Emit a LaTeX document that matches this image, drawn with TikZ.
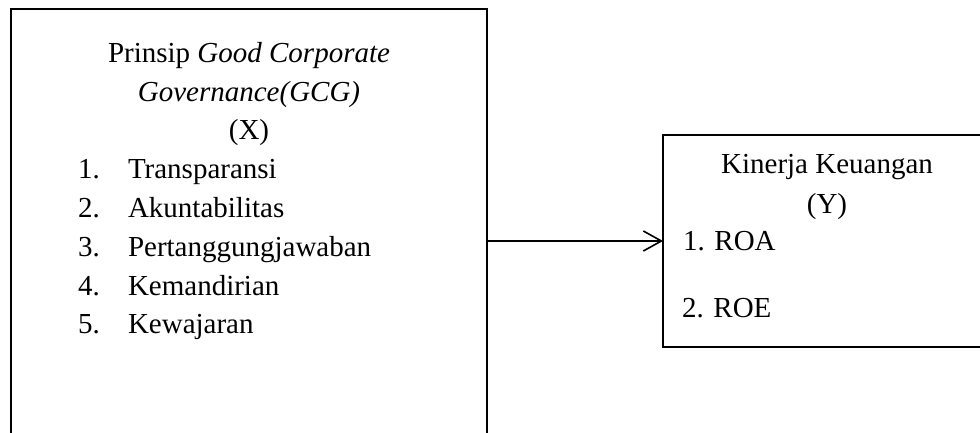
\documentclass[tikz,border=0pt]{standalone}
\usepackage{fontspec}
\setmainfont{Liberation Serif}
\usetikzlibrary{arrows.meta}
\tikzset{
  framebox/.style={draw, line width=1.3pt, rectangle, inner sep=0pt, outer sep=0pt},
  label text/.style={inner sep=0pt, outer sep=0pt, font=\fontsize{29}{38}\selectfont},
  flow/.style={line width=1.6pt, -{Straight Barb[length=18pt, width=20pt, line width=1.6pt]}}
}
\begin{document}
\begin{tikzpicture}[x=1pt, y=1pt]
  \useasboundingbox (0,0) rectangle (980,432);
  \clip (0,0) rectangle (980,432);
  % frames
  \node[framebox, minimum width=476pt, minimum height=441pt] (gcg) at (249,202.5) {};
  \node[framebox, minimum width=328pt, minimum height=212pt] (kin) at (827,191) {};
  % independent variable
  \node[label text, anchor=base] (t1) at (249,369) {Prinsip \textit{Good Corporate}};
  \node[label text, anchor=base] (t2) at (249,330) {\textit{Governance(GCG)}};
  \node[label text, anchor=base] (t3) at (249,292) {(X)};
  \node[label text, anchor=base west] (n1) at (78,254) {1.};
  \node[label text, anchor=base west] (i1) at (128,254) {Transparansi};
  \node[label text, anchor=base west] (n2) at (78,215) {2.};
  \node[label text, anchor=base west] (i2) at (128,215) {Akuntabilitas};
  \node[label text, anchor=base west] (n3) at (78,176) {3.};
  \node[label text, anchor=base west] (i3) at (128,176) {Pertanggungjawaban};
  \node[label text, anchor=base west] (n4) at (78,137) {4.};
  \node[label text, anchor=base west] (i4) at (128,137) {Kemandirian};
  \node[label text, anchor=base west] (n5) at (78,99) {5.};
  \node[label text, anchor=base west] (i5) at (128,99) {Kewajaran};
  % dependent variable
  \node[label text, anchor=base] (k1) at (827,259) {Kinerja Keuangan};
  \node[label text, anchor=base] (k2) at (827,219) {(Y)};
  \node[label text, anchor=base west] (r1) at (683,182) {1. ROA};
  \node[label text, anchor=base west] (r2) at (682,115) {2. ROE};
  % relation
  \draw[flow] (kin.west -| gcg.east) -- (kin.west);
\end{tikzpicture}
\end{document}
